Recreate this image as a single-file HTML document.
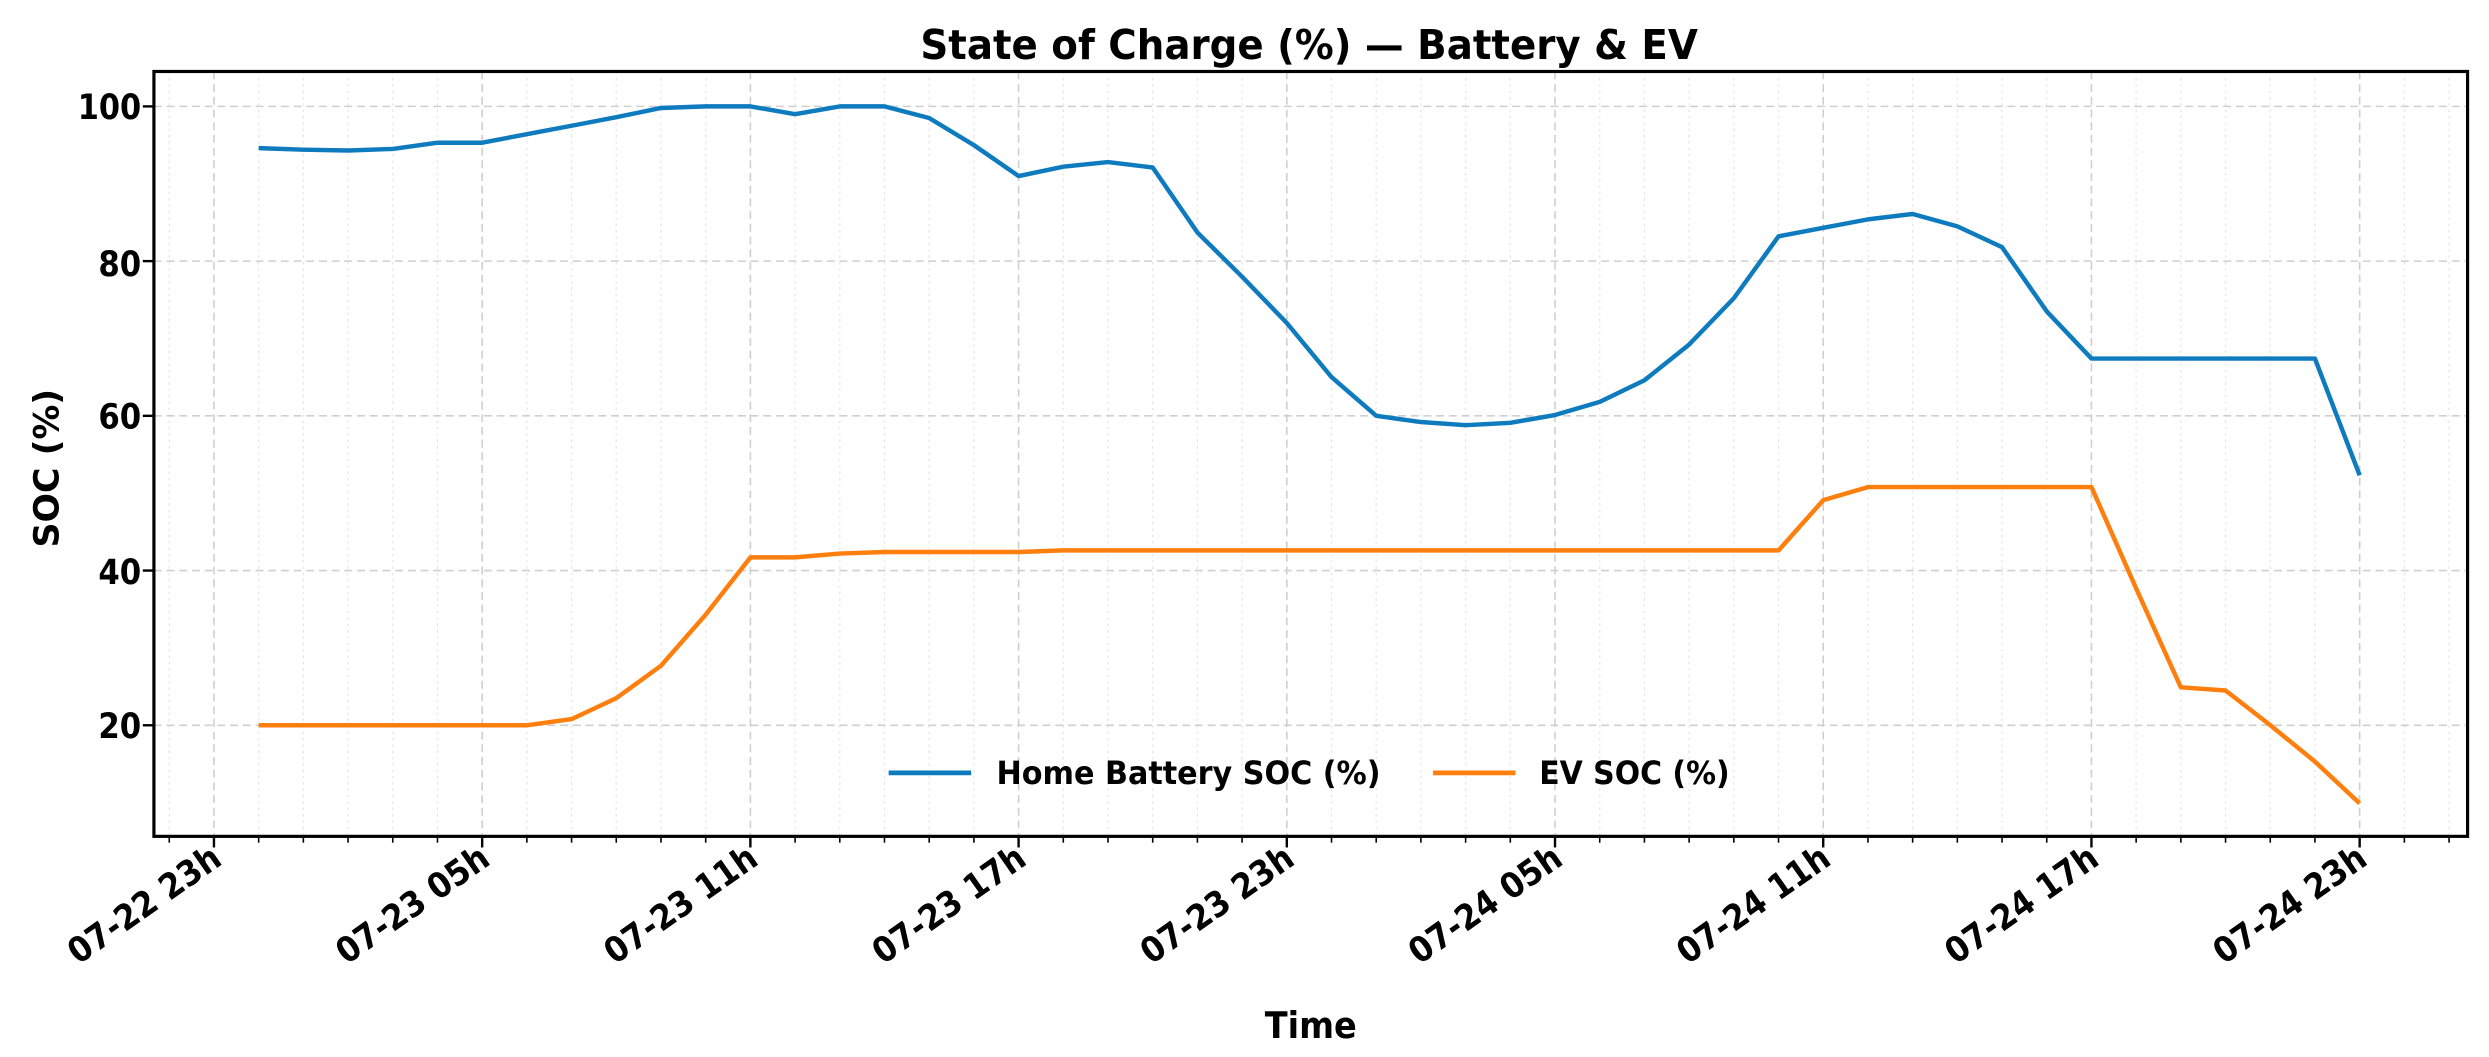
<!DOCTYPE html>
<html><head><meta charset="utf-8"><style>
html,body{margin:0;padding:0;background:#fff;}
svg{display:block;}
text{font-family:"DejaVu Sans","Liberation Sans",sans-serif;font-weight:bold;fill:#000;font-stretch:condensed;}
</style></head><body>
<svg id="s" width="2489" height="1057" viewBox="0 0 1568.5 666" xmlns="http://www.w3.org/2000/svg">
<rect x="0" y="0" width="1568.5" height="666" fill="#fff"/>
<g id="grid"></g>
<g id="series"></g>
<rect x="97" y="45" width="1458" height="482" fill="none" stroke="#000" stroke-width="2"/>
<g id="ticks"></g>
<text x="580" y="37" font-size="26" textLength="490" lengthAdjust="spacingAndGlyphs">State of Charge (%) — Battery &amp; EV</text>
<g font-size="22" text-anchor="end">
<text x="89" y="75" textLength="40" lengthAdjust="spacingAndGlyphs">100</text>
<text x="89" y="174" textLength="27" lengthAdjust="spacingAndGlyphs">80</text>
<text x="89" y="270" textLength="27" lengthAdjust="spacingAndGlyphs">60</text>
<text x="89" y="368" textLength="27" lengthAdjust="spacingAndGlyphs">40</text>
<text x="89" y="465" textLength="27" lengthAdjust="spacingAndGlyphs">20</text>
</g>
<text transform="translate(37,345) rotate(-90)" font-size="22" textLength="100" lengthAdjust="spacingAndGlyphs">SOC (%)</text>
<text x="797" y="654" font-size="23" textLength="58" lengthAdjust="spacingAndGlyphs">Time</text>
<g font-size="22" text-anchor="end">
<text transform="translate(141,544) rotate(-35)">07-22 23h</text>
<text transform="translate(310,544) rotate(-35)">07-23 05h</text>
<text transform="translate(479,544) rotate(-35)">07-23 11h</text>
<text transform="translate(648,544) rotate(-35)">07-23 17h</text>
<text transform="translate(817,544) rotate(-35)">07-23 23h</text>
<text transform="translate(986,544) rotate(-35)">07-24 05h</text>
<text transform="translate(1155,544) rotate(-35)">07-24 11h</text>
<text transform="translate(1324,544) rotate(-35)">07-24 17h</text>
<text transform="translate(1493,544) rotate(-35)">07-24 23h</text>
</g>
<line x1="560" y1="487" x2="612" y2="487" stroke="#0e7bbf" stroke-width="3"/>
<text x="628" y="494" font-size="20" textLength="242" lengthAdjust="spacingAndGlyphs">Home Battery SOC (%)</text>
<line x1="903" y1="487" x2="955" y2="487" stroke="#ff7f0e" stroke-width="3"/>
<text x="970" y="494" font-size="20" textLength="120" lengthAdjust="spacingAndGlyphs">EV SOC (%)</text>
</svg>
<script>
var NS="http://www.w3.org/2000/svg";
function el(p,t,a){var e=document.createElementNS(NS,t);for(var k in a)e.setAttribute(k,a[k]);document.getElementById(p).appendChild(e);return e;}
function X(h){return 163+28.17*h;}
function Y(v){return 457-(v-20)*4.875;}
for(var h=-2;h<=49;h++){var x=X(h);var major=((h+1)%6===0);
 el("grid","line",{x1:x,y1:45,x2:x,y2:527,stroke:major?"#cfcfcf":"#e6e6e6","stroke-width":major?1:0.8,"stroke-dasharray":major?"5,3":"1.5,2.5"});
 el("ticks","line",{x1:x,y1:527,x2:x,y2:major?534:531,stroke:"#000","stroke-width":major?1.5:1});}
[100,80,60,40,20].forEach(function(v){el("grid","line",{x1:97,y1:Y(v),x2:1555,y2:Y(v),stroke:"#cfcfcf","stroke-width":1,"stroke-dasharray":"5,3"});
 el("ticks","line",{x1:90,y1:Y(v),x2:97,y2:Y(v),stroke:"#000","stroke-width":1.5});});
var hb=[94.6,94.4,94.3,94.5,95.3,95.3,96.4,97.5,98.6,99.8,100,100,99,100,100,98.5,95,91,92.2,92.8,92.1,83.7,78,72,65,60,59.2,58.8,59.1,60.1,61.8,64.6,69.2,75.2,83.2,84.3,85.4,86.1,84.5,81.8,73.5,67.4,67.4,67.4,67.4,67.4,67.4,52.3];
var ev=[20,20,20,20,20,20,20,20.8,23.5,27.7,34.3,41.7,41.7,42.2,42.4,42.4,42.4,42.4,42.6,42.6,42.6,42.6,42.6,42.6,42.6,42.6,42.6,42.6,42.6,42.6,42.6,42.6,42.6,42.6,42.6,49.1,50.8,50.8,50.8,50.8,50.8,50.8,37.7,24.9,24.5,20,15.3,9.9];
function pts(a){return a.map(function(v,i){return X(i).toFixed(1)+","+Y(v).toFixed(1);}).join(" ");}
el("series","polyline",{points:pts(hb),fill:"none",stroke:"#0e7bbf","stroke-width":2.8,"stroke-linejoin":"round"});
el("series","polyline",{points:pts(ev),fill:"none",stroke:"#ff7f0e","stroke-width":2.8,"stroke-linejoin":"round"});
</script>
</body></html>
